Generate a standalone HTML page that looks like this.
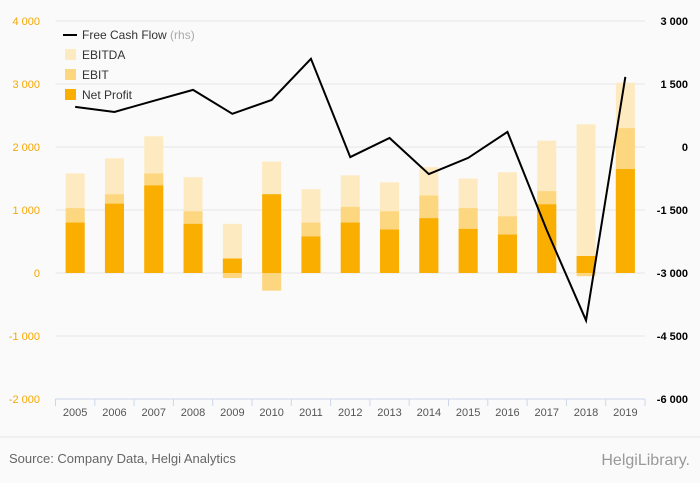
<!DOCTYPE html>
<html><head><meta charset="utf-8"><style>
html,body{margin:0;padding:0;background:#fafafa;}
svg{display:block;font-family:"Liberation Sans",sans-serif;}
</style></head><body>
<svg id="chart" width="700" height="483">
<g id="grid"></g><g id="bars"></g><g id="line"></g><g id="axes"></g>
<g>
 <line x1="63" y1="35" x2="77" y2="35" stroke="#000" stroke-width="2"/>
 <text x="82" y="39" font-size="12" fill="#333">Free Cash Flow <tspan fill="#aaa">(rhs)</tspan></text>
 <rect x="65" y="49" width="11" height="11" fill="#feeac0"/>
 <text x="82" y="59" font-size="12" fill="#333">EBITDA</text>
 <rect x="65" y="69" width="11" height="11" fill="#fdd680"/>
 <text x="82" y="79" font-size="12" fill="#333">EBIT</text>
 <rect x="65" y="89" width="11" height="11" fill="#f9ae00"/>
 <text x="82" y="99" font-size="12" fill="#333">Net Profit</text>
</g>
<line x1="0" y1="437" x2="700" y2="437" stroke="#e6e6e6"/>
<text x="9" y="463" font-size="13" fill="#666">Source: Company Data, Helgi Analytics</text>
<text x="690" y="465" font-size="16" fill="#999" text-anchor="end">HelgiLibrary.</text>
</svg>
<script>
const years=[2005,2006,2007,2008,2009,2010,2011,2012,2013,2014,2015,2016,2017,2018,2019];
const netProfit=[800,1100,1390,780,230,1250,580,800,690,870,700,610,1090,270,1650];
const ebit=[1030,1250,1580,980,-80,-280,800,1050,980,1230,1030,900,1300,-50,2300];
const ebitda=[1580,1820,2170,1520,780,1770,1330,1550,1440,1680,1500,1600,2100,2360,3020];
const fcf=[955,835,1100,1360,790,1120,2100,-240,215,-645,-260,360,-1980,-4130,1670];
const leftTicks=[4000,3000,2000,1000,0,-1000,-2000];
const rightTicks=[3000,1500,0,-1500,-3000,-4500,-6000];
const NS="http://www.w3.org/2000/svg";
const X0=55.5,X1=645,YT=21,YB=399;
const yL=v=>YT+(4000-v)/6000*(YB-YT);
const yR=v=>YT+(3000-v)/9000*(YB-YT);
const step=(X1-X0)/years.length;
const xc=i=>X0+step*(i+0.5);
const fmt=v=>(v<0?"-":"")+(Math.abs(v)>=1000?Math.floor(Math.abs(v)/1000)+" "+String(Math.abs(v)%1000).padStart(3,"0"):String(Math.abs(v)));
function mk(tag,attrs,parent,txt){const e=document.createElementNS(NS,tag);for(const k in attrs)e.setAttribute(k,attrs[k]);if(txt!==undefined)e.textContent=txt;document.getElementById(parent).appendChild(e);return e;}
leftTicks.forEach((v,i)=>{
 if(v!==-2000){const g=mk("line",{x1:X0,x2:X1,y1:yL(v),y2:yL(v),stroke:"#e6e6e6"},"grid");
 
 }
 const t=mk("text",{x:40,y:yL(v)+4,"font-size":"11",fill:"#f5a800","text-anchor":"end"},"axes",fmt(v));
 
 
 const r=mk("text",{x:688,y:yR(rightTicks[i])+4,"font-size":"11","font-weight":"bold",fill:"#000","text-anchor":"end"},"axes",fmt(rightTicks[i]));
 
 
});
const bw=19;
years.forEach((y,i)=>{
 [[ebitda,"#feeac0","bar-ebitda"],[ebit,"#fdd680","bar-ebit"],[netProfit,"#f9ae00","bar-net-profit"]].forEach(([arr,c,n])=>{
  const v=arr[i],a=yL(Math.max(v,0)),b=yL(Math.min(v,0));
  const r=mk("rect",{x:xc(i)-bw/2,y:a,width:bw,height:b-a,fill:c},"bars");
  
  
 });
 const t=mk("text",{x:xc(i),y:416,"font-size":"11",fill:"#555","text-anchor":"middle"},"axes",y);
 
 
});
for(let i=0;i<=years.length;i++){
 const x=X0+step*i;
 const l=mk("line",{x1:x,x2:x,y1:YB,y2:YB+7,stroke:"#ccd6eb"},"axes");
 
 
}
const ax=mk("line",{x1:X0,x2:X1,y1:YB,y2:YB,stroke:"#ccd6eb"},"axes");


const p=mk("path",{d:fcf.map((v,i)=>(i?"L":"M")+xc(i)+","+yR(v)).join(""),fill:"none",stroke:"#000","stroke-width":"2"},"line");


</script>
</body></html>
